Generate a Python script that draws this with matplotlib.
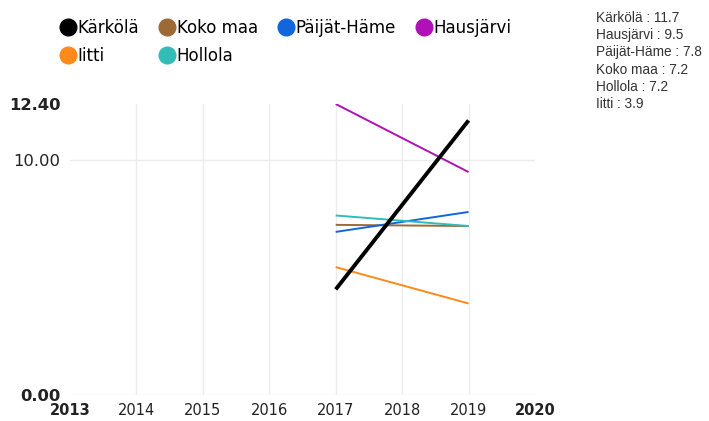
import matplotlib
matplotlib.use("Agg")
import matplotlib.pyplot as plt
from matplotlib.lines import Line2D

years = [2017, 2019]
series_names = ["Kärkölä", "Koko maa", "Päijät-Häme", "Hausjärvi", "Iitti", "Hollola"]
karkola = [4.5, 11.7]
koko_maa = [7.25, 7.2]
paijat_hame = [6.95, 7.8]
hausjarvi = [12.4, 9.5]
iitti = [5.45, 3.9]
hollola = [7.65, 7.2]
values = [karkola, koko_maa, paijat_hame, hausjarvi, iitti, hollola]
colors = ["#000000", "#9c6a35", "#1166dd", "#b010b8", "#ff8a1c", "#33bbb8"]
widths = [2.8, 1.4, 1.4, 1.4, 1.4, 1.4]

x_ticks = [2013, 2014, 2015, 2016, 2017, 2018, 2019, 2020]
y_ticks = [0.0, 10.0, 12.4]
y_labels = ["0.00", "10.00", "12.40"]
side_text = ["Kärkölä : 11.7", "Hausjärvi : 9.5", "Päijät-Häme : 7.8",
             "Koko maa : 7.2", "Hollola : 7.2", "Iitti : 3.9"]

W, H = 709, 421
fig = plt.figure(figsize=(W / 100, H / 100), dpi=100)
ax = fig.add_axes([70 / W, 1 - 395 / H, (535 - 70) / W, (395 - 104) / H])

for name, v, c, lw in zip(series_names, values, colors, widths):
    ax.plot(years, v, color=c, lw=lw, solid_capstyle="butt", zorder=3 if lw > 2 else 2)

ax.set_xlim(2013, 2020)
ax.set_ylim(0, 12.4)
ax.set_xticks(x_ticks)
ax.set_xticklabels([str(t) for t in x_ticks])
ax.set_yticks(y_ticks)
ax.set_yticklabels(y_labels)
for spine in ax.spines.values():
    spine.set_visible(False)
ax.tick_params(length=0, colors="#222222")
ax.tick_params(axis="x", labelsize=10.5, pad=6)
ax.tick_params(axis="y", labelsize=11.8, pad=7)
ax.grid(True, color="#ececec", lw=1)
ax.set_axisbelow(True)
for lbl in ax.get_xticklabels():
    if lbl.get_text() in ("2013", "2020"):
        lbl.set_fontweight("bold")
for lbl in ax.get_yticklabels():
    if lbl.get_text() in ("0.00", "12.40"):
        lbl.set_fontweight("bold")
for gl, t in zip(ax.get_xgridlines(), x_ticks):
    if t in (2013, 2020):
        gl.set_visible(False)
for gl, t in zip(ax.get_ygridlines(), y_ticks):
    if t == 12.4:
        gl.set_visible(False)

# legend (column-major ordering)
order = [0, 4, 1, 5, 2, 3]
handles = [Line2D([], [], marker="o", ls="none", markersize=12,
                  markerfacecolor=colors[i], markeredgecolor=colors[i]) for i in order]
labels = [series_names[i] for i in order]
fig.legend(handles, labels, ncol=4, loc="upper left", bbox_to_anchor=(60 / W, 1 - 19 / H),
           frameon=False, fontsize=12, handletextpad=0.05, columnspacing=1.2,
           labelspacing=0.62, handlelength=1.0, borderaxespad=0, borderpad=0)

for i, t in enumerate(side_text):
    fig.text(596 / W, 1 - (18 + i * 17.2) / H, t, fontsize=9.8, family="Liberation Sans",
             color="#333333", va="center", ha="left")

fig.savefig("out.png", dpi=100)
